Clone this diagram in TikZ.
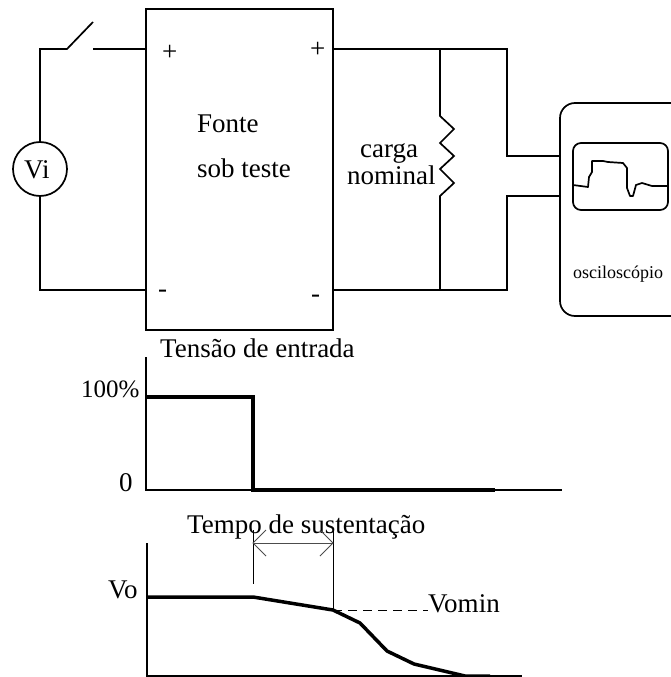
\documentclass[tikz,border=0pt]{standalone}
\usepackage{fontspec}
\setmainfont{Liberation Serif}

\begin{document}
\begin{tikzpicture}[x=1pt,y=-1pt,line join=miter,
                    wire/.style={line width=1.7pt,black},
                    trace/.style={line width=3.5pt,black},
                    axis line/.style={line width=1.4pt,black},
                    thin line/.style={line width=0.8pt,black},
                    dim line/.style={line width=0.9pt,black!70},
                    box/.style={draw,line width=1.7pt,inner sep=0pt},
                    lbl/.style={font=\fontsize{27}{27}\selectfont,inner sep=0pt,anchor=base west},
                    small lbl/.style={font=\fontsize{18}{18}\selectfont,inner sep=0pt,anchor=base west}]
  \useasboundingbox (0,0) rectangle (670,677);

  % circuit
  \node[box,circle,minimum size=54pt] (vi) at (40,169) {};
  \node[lbl] (vitext) at (24,178) {Vi};
  \node[box,minimum width=187pt,minimum height=321pt] (fonte) at (239.5,169.5) {};
  \node[box,rounded corners=15pt,minimum width=125pt,minimum height=213pt] (osc) at (622.5,209.5) {};
  \node[box,rounded corners=8pt,minimum width=95pt,minimum height=67pt] (tela) at (620.5,176.5) {};

  \coordinate (sw1) at (67,49);
  \coordinate (sw2) at (93,49);
  \coordinate (swtip) at (93,22);
  \coordinate (in1) at (146,49);
  \coordinate (in2) at (146,290);
  \coordinate (out1) at (333,49);
  \coordinate (out2) at (333,290);
  \coordinate (res1) at (440,49);
  \coordinate (res2) at (440,290);
  \coordinate (osc1) at (560,156);
  \coordinate (osc2) at (560,196);

  \draw[wire] (vi) -- (40,49) -- (sw1) -- (swtip);
  \draw[wire] (sw2) -- (in1);
  \draw[wire] (vi) -- (40,290) -- (in2);
  \draw[wire] (out1) -- (507,49) -- (507,156) -- (osc1);
  \draw[wire] (out2) -- (507,290) -- (507,196) -- (osc2);
  \draw[wire] (res1) -- (440,116) -- (454,129) -- (440,143) -- (454,156)
              -- (440,169) -- (454,183) -- (440,196) -- (res2);

  % tela
  \draw[wire,line join=round] (573,185) -- (588,187) -- (589,177) -- (592,172) -- (592,161)
        -- (603,161) -- (608,162) -- (623,163) -- (627,168) -- (627,188)
        -- (630,196) -- (633,196) -- (636,185) -- (642,183) -- (652,186) -- (667,186);

  \node[lbl] (p1) at (162,60) {+};
  \node[lbl] (p2) at (310,58) {+};
  \node[lbl] (m1) at (158,297) {-};
  \node[lbl] (m2) at (311,302) {-};
  \node[lbl] (t1) at (197,132) {Fonte};
  \node[lbl] (t2) at (197,177) {sob teste};
  \node[lbl] (t3) at (360,157) {carga};
  \node[lbl] (t4) at (347,184) {nominal};
  \node[small lbl] (t5) at (573,278) {osciloscópio};

  % tensao de entrada
  \node[lbl] (t6) at (160,357) {Tensão de entrada};
  \node[lbl,font=\fontsize{25}{25}\selectfont] (t7) at (81,397) {100\%};
  \node[lbl] (t8) at (119,491) {0};
  \coordinate (ax1) at (146,357);
  \coordinate (ax1o) at (146,490);
  \coordinate (ax1x) at (562,490);
  \draw[axis line] (ax1) -- (ax1o) -- (ax1x);
  \draw[trace] (146,397) -- (253,397) -- (253,490) -- (495,490);

  % tempo de sustentacao
  \node[lbl] (t9) at (187,533) {Tempo de sustentação};
  \node[lbl] (t10) at (108,598) {Vo};
  \node[lbl] (t11) at (428,612) {Vomin};
  \coordinate (ax2) at (147,543);
  \coordinate (ax2o) at (147,676);
  \coordinate (ax2x) at (522,676);
  \coordinate (d1) at (253,543);
  \coordinate (d2) at (333,543);
  \coordinate (vmin) at (333,610);
  \coordinate (dash end) at (428,610);
  \draw[axis line] (ax2) -- (ax2o) -- (ax2x);
  \draw[trace] (147,597) -- (253,597) -- (vmin) -- (360,623) -- (387,651)
               -- (414,664) -- (465,676) -- (490,676);
  \draw[thin line] (253,530) -- (253,584);
  \draw[thin line] (333,530) -- (vmin);
  \draw[dim line] (d1) -- (d2);
  \draw[dim line] ([shift={(13,-13)}]d1) -- (d1) -- ([shift={(13,13)}]d1);
  \draw[dim line] ([shift={(-13,-13)}]d2) -- (d2) -- ([shift={(-13,13)}]d2);
  \draw[thin line,dashed,dash pattern=on 9pt off 6pt] (vmin) -- (dash end);
\end{tikzpicture}
\end{document}
